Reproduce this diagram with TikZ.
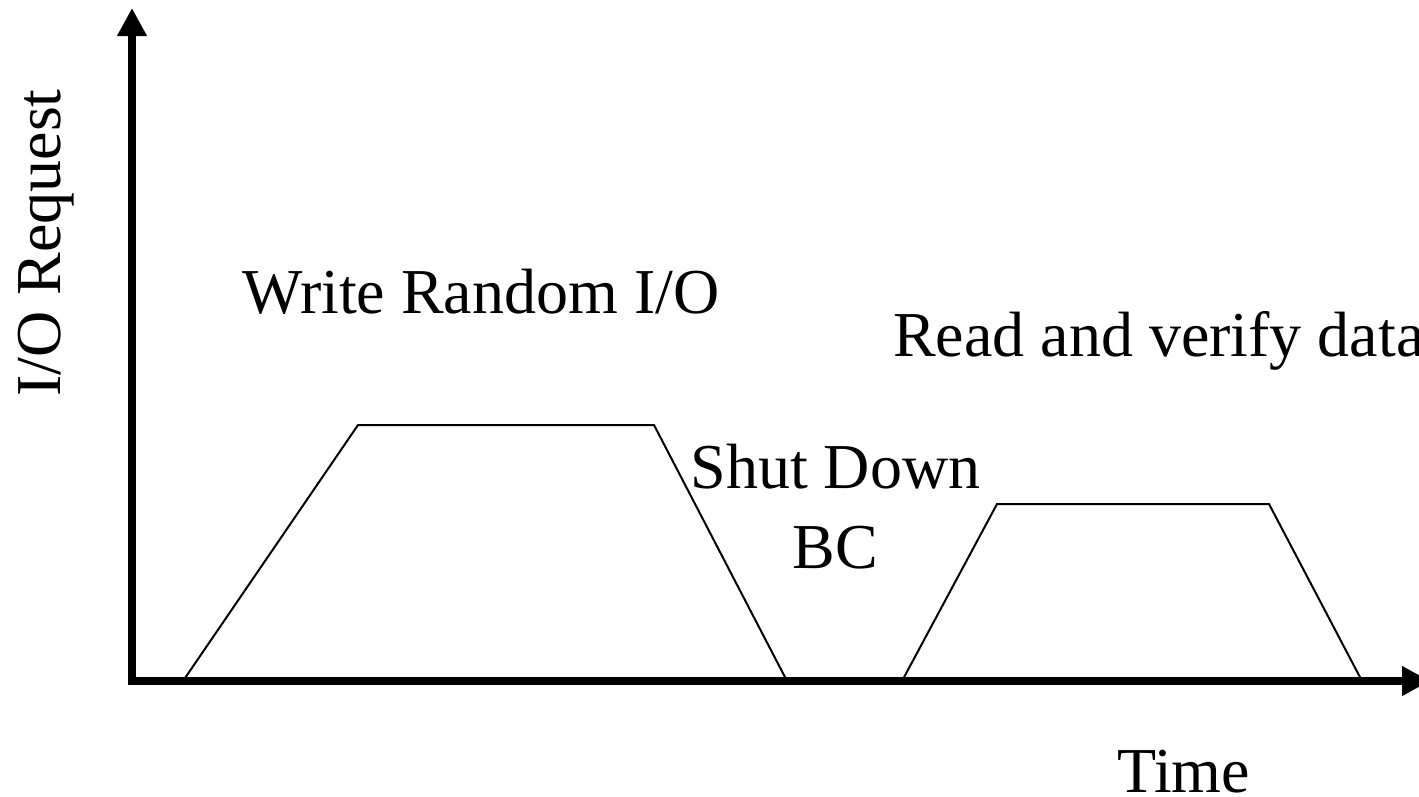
\documentclass[tikz,border=0pt]{standalone}
\usepackage{fontspec}
\setmainfont{Liberation Serif}
\usetikzlibrary{arrows.meta}
\begin{document}
\begin{tikzpicture}[x=1pt,y=-1pt,
  axis/.style={line width=8pt,line join=miter,-{Triangle[length=28pt,width=28pt]}},
  curve/.style={line width=2pt,line join=miter},
  label/.style={inner sep=0pt,anchor=base west,font=\fontsize{64}{77}\selectfont}]
\useasboundingbox (0,0) rectangle (1419,796);
% axes
\coordinate (O) at (132,681);
\coordinate (ytip) at (132,8);
\coordinate (xtip) at (1430,681);
\draw[axis] (O) -- (ytip);
\draw[axis] (128,681) -- (xtip);
% workload phases
\coordinate (a1) at (183,681);
\coordinate (a2) at (358,425);
\coordinate (a3) at (654,425);
\coordinate (a4) at (787,681);
\draw[curve] (a1) -- (a2) -- (a3) -- (a4);
\coordinate (b1) at (902,681);
\coordinate (b2) at (997,504);
\coordinate (b3) at (1269,504);
\coordinate (b4) at (1362,681);
\draw[curve] (b1) -- (b2) -- (b3) -- (b4);
% labels
\node[label,rotate=90] (ylab) at (60,397) {I/O Request};
\node[label] (write) at (242,313) {Write Random I/O};
\node[label] (read) at (893,356) {Read and verify data};
\node[label,anchor=base] (shut) at (835.5,488) {Shut Down};
\node[label,anchor=base] (bc) at (835.5,568) {BC};
\node[label] (time) at (1117,792) {Time};
\end{tikzpicture}
\end{document}
